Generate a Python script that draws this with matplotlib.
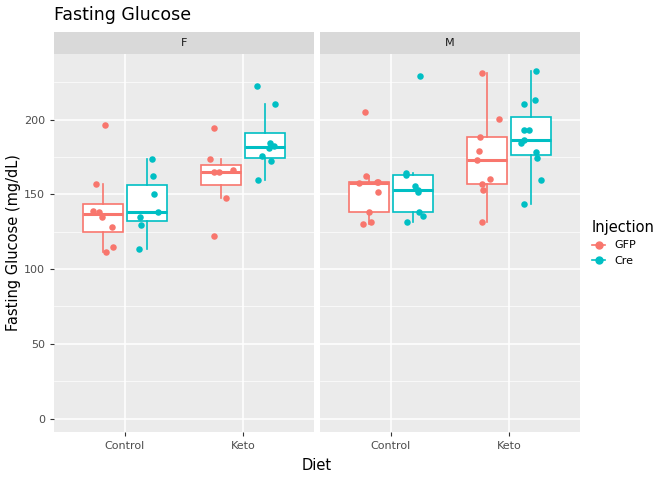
import numpy as np
import matplotlib.pyplot as plt
from matplotlib.lines import Line2D

sexes = ["F", "M"]
diets = ["Control", "Keto"]
injections = ["GFP", "Cre"]
colors = {"GFP": "#F8766D", "Cre": "#00BFC4"}

# glucose values (mg/dL) per sex / diet / injection
values = {
    ("F", "Control", "GFP"): [196.5, 157, 139, 138.5, 134.7, 128.5, 115, 111.5],
    ("F", "Control", "Cre"): [173.4, 162.3, 150.3, 138.3, 134.7, 129.3, 113.2],
    ("F", "Keto", "GFP"): [194.2, 173.4, 165.2, 165.2, 166.3, 147.4, 122.4],
    ("F", "Keto", "Cre"): [222.3, 210.5, 184.4, 181.3, 182.4, 175.5, 172.3, 159.4],
    ("M", "Control", "GFP"): [205.4, 162.3, 157.4, 158.3, 158, 151.4, 138.3, 131.3, 130.4],
    ("M", "Control", "Cre"): [229.4, 164.1, 163, 155.4, 151.4, 153, 138.3, 135.6, 131.3],
    ("M", "Keto", "GFP"): [231.4, 200.2, 188.2, 179.3, 173.2, 160.3, 157.2, 153.2, 131.3],
    ("M", "Keto", "Cre"): [232.3, 213.2, 210.2, 193, 193, 186.6, 184.2, 178.4, 174.4, 159.4, 143.3],
}
# horizontal jitter
jitter = {
    ("F", "Control", "GFP"): [0.02, -0.06, -0.08, -0.03, -0.01, 0.08, 0.09, 0.03],
    ("F", "Control", "Cre"): [0.04, 0.05, 0.06, 0.09, -0.06, -0.05, -0.07],
    ("F", "Keto", "GFP"): [-0.06, -0.09, -0.06, -0.02, 0.10, 0.04, -0.06],
    ("F", "Keto", "Cre"): [-0.07, 0.08, 0.04, 0.03, 0.07, -0.03, 0.05, -0.06],
    ("M", "Control", "GFP"): [-0.03, -0.02, -0.08, 0.08, 0.07, 0.08, 0.0, 0.02, -0.05],
    ("M", "Control", "Cre"): [0.06, -0.06, -0.06, 0.02, 0.04, 0.04, 0.05, 0.08, -0.05],
    ("M", "Keto", "GFP"): [-0.04, 0.10, -0.06, -0.07, -0.08, 0.03, -0.04, -0.03, -0.04],
    ("M", "Keto", "Cre"): [0.04, 0.03, -0.06, -0.06, -0.02, -0.06, -0.09, 0.04, 0.05, 0.08, -0.06],
}

fig = plt.figure(figsize=(6.72, 4.8), dpi=100)
W, H = 672, 480
panels = [(54, 314), (320, 580)]
top, bot = 54, 432
offs = {"GFP": -0.1875, "Cre": 0.1875}

for (l, r), sex in zip(panels, sexes):
    ax = fig.add_axes([l / W, 1 - bot / H, (r - l) / W, (bot - top) / H])
    ax.set_facecolor("#EBEBEB")
    for s in ax.spines.values():
        s.set_visible(False)
    for i, diet in enumerate(diets):
        for inj in injections:
            v = np.array(values[(sex, diet, inj)])
            pos = i + 1 + offs[inj]
            c = colors[inj]
            ax.boxplot([v], positions=[pos], widths=0.34, showfliers=False, patch_artist=True,
                       manage_ticks=False,
                       boxprops=dict(facecolor="white", edgecolor=c, lw=1.2),
                       medianprops=dict(color=c, lw=2.2),
                       whiskerprops=dict(color=c, lw=1.2),
                       capprops=dict(lw=0), zorder=2)
            ax.scatter(pos + np.array(jitter[(sex, diet, inj)]), v, s=22, color=c, zorder=3, lw=0)
    ax.set_xlim(0.4, 2.6)
    ax.set_ylim(-9, 244)
    ax.set_xticks([1, 2], diets)
    ax.set_xticks([], minor=True)
    ax.set_yticks([0, 50, 100, 150, 200])
    ax.set_yticks([25, 75, 125, 175, 225], minor=True)
    ax.grid(True, which="major", color="white", lw=1.1)
    ax.grid(True, which="minor", axis="y", color="white", lw=0.5)
    ax.set_axisbelow(True)
    ax.tick_params(which="both", length=3, color="#333333", labelsize=8, labelcolor="#4D4D4D")
    ax.tick_params(which="minor", length=0)
    if sex == "M":
        ax.tick_params(axis="y", length=0, labelleft=False)
    # strip
    sax = fig.add_axes([l / W, 1 - 54 / H, (r - l) / W, 22 / H])
    sax.set_facecolor("#D9D9D9")
    sax.set_xticks([]); sax.set_yticks([])
    for s in sax.spines.values():
        s.set_visible(False)
    sax.text(0.5, 0.5, sex, ha="center", va="center", fontsize=8, color="#1A1A1A")

fig.text(54 / W, 1 - 15 / H, "Fasting Glucose", fontsize=12.5, va="center", ha="left")
fig.text((54 + 580) / 2 / W, 1 - 465 / H, "Diet", fontsize=10.5, ha="center", va="center")
fig.text(14 / W, 1 - 243 / H, "Fasting Glucose (mg/dL)", fontsize=10.5, rotation=90, ha="center", va="center")

handles = [Line2D([], [], color=colors[k], marker="o", markersize=5, lw=1.2) for k in injections]
fig.legend(handles, injections, title="Injection", loc="center left", bbox_to_anchor=(582 / W, 1 - 243 / H),
           frameon=False, fontsize=8, title_fontsize=10.5, alignment="left", handlelength=1.2)

fig.savefig("out.png", dpi=100)
